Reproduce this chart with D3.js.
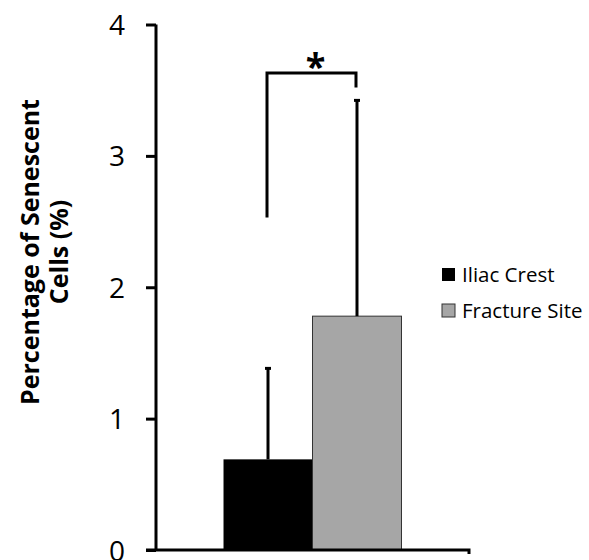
<!DOCTYPE html>
<html>
<head>
<meta charset="utf-8">
<script src="https://cdn.jsdelivr.net/npm/d3@7"></script>
<style>
    body { margin: 0; background: #fff; }
    text { font-family: "Open Sans", sans-serif; }
</style>
</head>
<body>
<div id="chart"></div>
<script>
// data
const categories = ["Iliac Crest", "Fracture Site"];
const means = [0.69, 1.78];
const errors = [0.70, 1.65];
const colors = ["#000000", "#a6a6a6"];
const yTicks = [0, 1, 2, 3, 4];
// significance bracket: left leg bottom, top, right leg bottom
const bracket = [2.53, 3.63, 3.52];
const yLabel = ["Percentage of Senescent", "Cells (%)"];

const width = 589, height = 560;
const margin = { top: 24.5, right: 120, bottom: 10, left: 156 };
const innerW = 469 - margin.left;
const innerH = 550 - margin.top;

const svg = d3.select("#chart").append("svg")
    .attr("width", width)
    .attr("height", height);

const g = svg.append("g")
    .attr("transform", `translate(${margin.left},${margin.top})`);

const y = d3.scaleLinear().domain([0, 4]).range([innerH, 0]);
const x0 = d3.scaleBand().domain(["group"]).range([0, innerW]).padding(0.275);
const x1 = d3.scaleBand().domain(categories).range([0, x0.bandwidth()]).padding(0);

const gx = x0("group");

// bars
g.selectAll(".bar")
    .data(categories)
    .enter().append("rect")
    .attr("class", "bar")
    .attr("x", (d, i) => gx + x1(d))
    .attr("y", (d, i) => y(means[i]))
    .attr("width", x1.bandwidth())
    .attr("height", (d, i) => y(0) - y(means[i]))
    .attr("fill", (d, i) => colors[i])
    .attr("stroke", (d, i) => i == 0 ? "none" : "#333")
    .attr("stroke-width", 1);

// upper error bars
categories.forEach((c, i) => {
    const cx = gx + x1(c) + x1.bandwidth() / 2;
    g.append("line")
        .attr("x1", cx).attr("x2", cx)
        .attr("y1", y(means[i])).attr("y2", y(means[i] + errors[i]))
        .attr("stroke", "#000").attr("stroke-width", 3);
    g.append("line")
        .attr("x1", cx - 3).attr("x2", cx + 3)
        .attr("y1", y(means[i] + errors[i]) + 1).attr("y2", y(means[i] + errors[i]) + 1)
        .attr("stroke", "#000").attr("stroke-width", 3);
});

// significance bracket
const bx1 = gx + x1(categories[0]) + x1.bandwidth() / 2 - 1;
const bx2 = gx + x1(categories[1]) + x1.bandwidth() / 2 - 1;
g.append("path")
    .attr("d", `M${bx1},${y(bracket[0])}V${y(bracket[1])}H${bx2}V${y(bracket[2])}`)
    .attr("fill", "none")
    .attr("stroke", "#000")
    .attr("stroke-width", 3);

g.append("text")
    .attr("x", (bx1 + bx2) / 2 + 4)
    .attr("y", y(bracket[1]) + 6)
    .attr("text-anchor", "middle")
    .attr("font-size", "36px")
    .attr("font-weight", "bold")
    .text("*");

// axes
const yAxis = g.append("g")
    .attr("class", "y axis")
    .call(d3.axisLeft(y).tickValues(yTicks).tickSize(10).tickPadding(21).tickFormat(d3.format("d")));
yAxis.select(".domain").attr("d", `M-0,${y(4)}V${y(0)}`).attr("stroke-width", 3);
yAxis.selectAll(".tick line").attr("stroke-width", 3);
yAxis.selectAll(".tick text")
    .attr("font-size", "28px")
    .attr("font-family", "'Open Sans', sans-serif")
    .attr("dy", "0.36em")
    .attr("fill", "#000");

const xAxis = g.append("g")
    .attr("class", "x axis")
    .attr("transform", `translate(0,${innerH})`)
    .call(d3.axisBottom(x0).tickSize(0).tickFormat(""));
xAxis.select(".domain").attr("d", `M-10,0H${innerW}v4`).attr("stroke-width", 3);

// y label
yLabel.forEach((t, i) => {
    svg.append("text")
        .attr("transform", `translate(${39 + i * 29},252) rotate(-90)`)
        .attr("text-anchor", "middle")
        .attr("font-size", "25px")
        .attr("font-weight", "bold")
        .text(t);
});

// legend
const legend = svg.append("g")
    .attr("transform", "translate(442,268)");
categories.forEach((c, i) => {
    const row = legend.append("g").attr("transform", `translate(0,${i * 36})`);
    row.append("rect")
        .attr("width", 13).attr("height", 13)
        .attr("fill", colors[i])
        .attr("stroke", i == 0 ? "none" : "#333")
        .attr("stroke-width", 1);
    row.append("text")
        .attr("x", 20)
        .attr("y", 14)
        .attr("font-size", "20.5px")
        .text(c);
});
</script>
</body>
</html>
